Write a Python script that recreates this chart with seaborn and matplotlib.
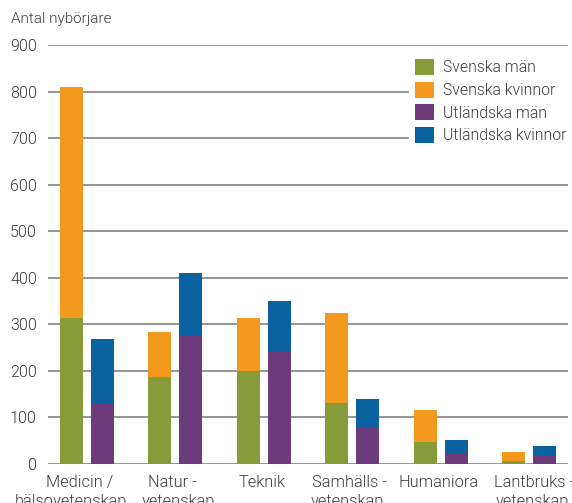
"""Nybörjare per forskningsområde, svenska och utländska."""

import matplotlib

matplotlib.use("Agg")
import matplotlib.pyplot as plt
import matplotlib.patches as mpatches
import pandas as pd
import seaborn as sns

GREEN = "#889B3A"
ORANGE = "#F39A1E"
PURPLE = "#6E3B7A"
BLUE = "#0A63A0"
GRID = "#8C8C8C"
TEXT = "#3A3A3A"

categories = ["Medicin", "Natur", "Teknik", "Samhälls", "Humaniora", "Lantbruks"]
label_line1 = ["Medicin /", "Natur -", "Teknik", "Samhälls -", "Humaniora", "Lantbruks -"]
label_line2 = ["hälsovetenskap", "vetenskap", "", "vetenskap", "", "vetenskap"]
svenska_man = [314, 186, 199, 130, 46, 5]
svenska_kvinnor = [496, 97, 115, 193, 69, 20]
utl_man = [130, 275, 241, 79, 23, 18]
utl_kvinnor = [138, 135, 109, 60, 28, 20]
yticks = [0, 100, 200, 300, 400, 500, 600, 700, 800, 900]

# label nudges (in category units), the original labels are not strictly centred
shift1 = [-0.08, -0.03, -0.02, -0.035, -0.02, 0.06]
shift2 = [-0.18, 0.03, 0.0, -0.05, 0.0, 0.035]

rows = []
for i, cat in enumerate(categories):
    rows.append({"cat": cat, "grupp": "Svensk", "man": svenska_man[i],
                 "total": svenska_man[i] + svenska_kvinnor[i]})
    rows.append({"cat": cat, "grupp": "Utländsk", "man": utl_man[i],
                 "total": utl_man[i] + utl_kvinnor[i]})
df = pd.DataFrame(rows)

sns.set_theme(style="white")
plt.rcParams["font.family"] = ["Roboto", "DejaVu Sans"]
plt.rcParams["font.weight"] = 300

fig = plt.figure(figsize=(5.72, 5.03), dpi=100)
ax = fig.add_axes([0.0839, 0.0785, 0.9091, 0.832])

for y in yticks:
    ax.axhline(y, color=GRID, linewidth=1.3, zorder=0)

sns.barplot(data=df, x="cat", y="total", hue="grupp", palette=[ORANGE, BLUE],
            width=0.70, gap=0.257, saturation=1, legend=False, linewidth=0,
            ax=ax, zorder=2)
sns.barplot(data=df, x="cat", y="man", hue="grupp", palette=[GREEN, PURPLE],
            width=0.70, gap=0.257, saturation=1, legend=False, linewidth=0,
            ax=ax, zorder=3)

ax.set_xlim(-0.44, 5.44)
ax.set_ylim(0, 900)
ax.set_yticks(yticks)
ax.set_xticks([])
ax.set_xlabel("")
ax.set_ylabel("")
for s in ax.spines.values():
    s.set_visible(False)
ax.tick_params(axis="y", labelsize=11.5, colors=TEXT, pad=8, length=0)

trans = ax.get_xaxis_transform()
for i in range(len(categories)):
    ax.text(i + shift1[i], -0.045, label_line1[i], transform=trans, ha="center",
            va="center", fontsize=11.8, color=TEXT, clip_on=False)
    if label_line2[i]:
        ax.text(i + shift2[i], -0.09, label_line2[i], transform=trans, ha="center",
                va="center", fontsize=11.8, color=TEXT, clip_on=False)

fig.text(0.02, 0.962, "Antal nybörjare", fontsize=11, color=TEXT, va="center")

handles = [mpatches.Patch(color=c, label=l, linewidth=0) for c, l in
           [(GREEN, "Svenska män"), (ORANGE, "Svenska kvinnor"),
            (PURPLE, "Utländska män"), (BLUE, "Utländska kvinnor")]]
leg = fig.legend(handles=handles, loc="upper left", bbox_to_anchor=(0.715, 0.895),
                 frameon=True, fontsize=11.3, handlelength=1.2, handleheight=1.2,
                 handletextpad=0.55, labelspacing=0.4, borderpad=0.4,
                 borderaxespad=0)
leg.get_frame().set_facecolor("white")
leg.get_frame().set_edgecolor("white")
leg.get_frame().set_alpha(1)
for t in leg.get_texts():
    t.set_color(TEXT)

fig.savefig("out.png", dpi=100)
